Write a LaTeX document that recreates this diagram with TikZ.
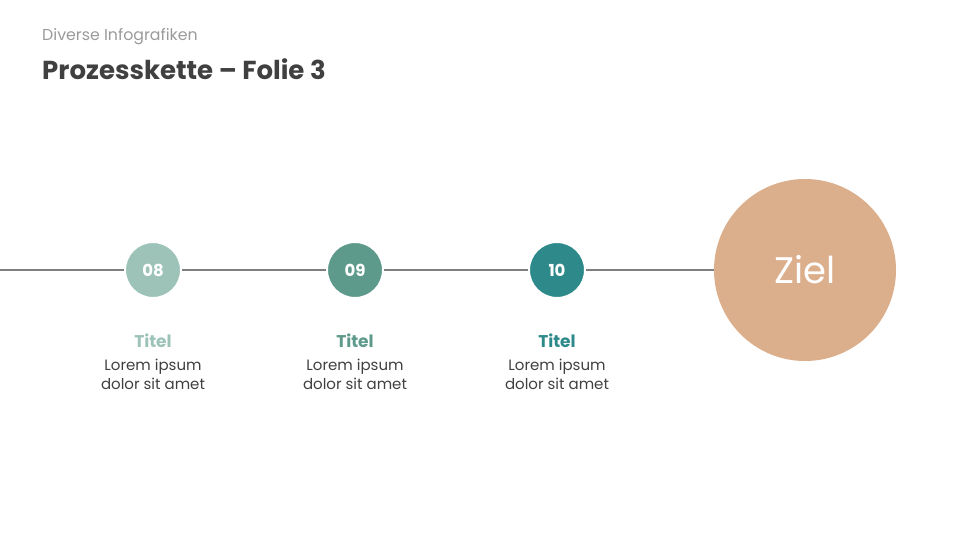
\documentclass[tikz,border=0pt]{standalone}
\usepackage{fontspec}
\setmainfont{Poppins}
\definecolor{cA}{HTML}{9DC3B9}
\definecolor{cB}{HTML}{5E9A8B}
\definecolor{cC}{HTML}{2E8A8A}
\definecolor{cZ}{HTML}{DBAE8C}
\definecolor{lineg}{HTML}{7F7F7F}
\definecolor{txt}{HTML}{404040}
\definecolor{sub}{HTML}{9A9A9A}
\begin{document}
\begin{tikzpicture}[x=1pt,y=-1pt,
  stepdot/.style={circle,minimum size=56pt,inner sep=0pt,draw=white,line width=2pt,text=white,font=\fontsize{16.5}{18}\selectfont\bfseries},
  ttl/.style={font=\fontsize{17}{19}\selectfont\bfseries},
  body/.style={text=txt,font=\fontsize{15}{19}\selectfont,align=center}]
\useasboundingbox (0,0) rectangle (960,540);
\node[anchor=west,inner sep=0pt,text=sub,font=\fontsize{15.8}{18}\selectfont] (sub) at (42,37) {Diverse Infografiken};
\node[anchor=west,inner sep=0pt,text=txt,font=\fontsize{26}{30}\selectfont\bfseries] (head) at (42,69) {Prozesskette – Folie 3};
\coordinate (start) at (0,270);
\node[circle,fill=cZ,minimum size=182pt,inner sep=0pt,text=white,font=\fontsize{37}{44}\selectfont] (ziel) at (805,270) {Ziel};
\node[stepdot,fill=cA] (s8) at (153,270) {08};
\node[stepdot,fill=cB] (s9) at (355,270) {09};
\node[stepdot,fill=cC] (s10) at (557,270) {10};
\draw[lineg,line width=1.5pt] (start) -- (s8) -- (s9) -- (s10) -- (ziel);
\node[ttl,text=cA] (t8) at (153,341) {Titel};
\node[ttl,text=cB] (t9) at (355,341) {Titel};
\node[ttl,text=cC] (t10) at (557,341) {Titel};
\node[body] (b8) at (153,374) {Lorem ipsum\\dolor sit amet};
\node[body] (b9) at (355,374) {Lorem ipsum\\dolor sit amet};
\node[body] (b10) at (557,374) {Lorem ipsum\\dolor sit amet};
\end{tikzpicture}
\end{document}
